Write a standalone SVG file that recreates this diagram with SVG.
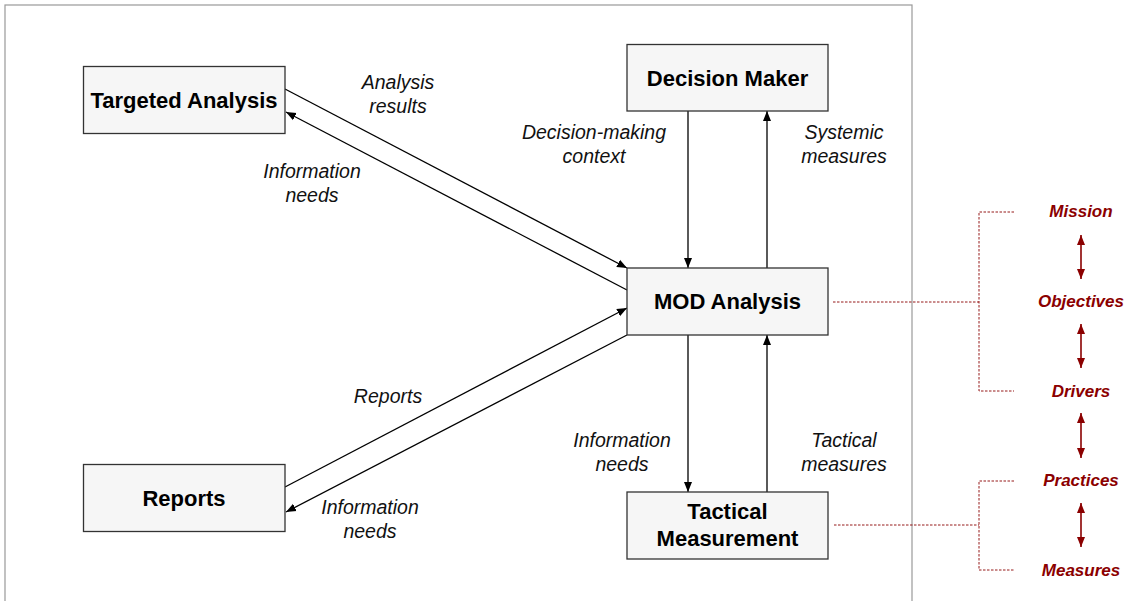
<svg xmlns="http://www.w3.org/2000/svg" width="1128" height="601" viewBox="0 0 1128 601">
<defs>
<style>
.box{fill:#f6f6f6;stroke:#333;stroke-width:1.3}
.nt{font-family:"Liberation Sans",Arial,sans-serif;font-weight:bold;font-size:22px;fill:#000;text-anchor:middle}
.lb{font-family:"Liberation Sans",Arial,sans-serif;font-style:italic;font-size:19.5px;fill:#111;text-anchor:middle}
.rt{font-family:"Liberation Sans",Arial,sans-serif;font-style:italic;font-weight:bold;font-size:17px;fill:#8b0000;text-anchor:middle}
.ln{stroke:#000;stroke-width:1.3;fill:none}
.dl{stroke:#8b0000;stroke-width:0.9;fill:none;stroke-dasharray:2.5 1.5}
.ra{stroke:#8b0000;stroke-width:1.6;fill:none}
</style>
<marker id="ah" viewBox="0 0 10 10" refX="10" refY="5" markerWidth="10" markerHeight="10" markerUnits="userSpaceOnUse" orient="auto">
<path d="M0,1 L10,5 L0,9 z" fill="#000"/>
</marker>
<marker id="rh" viewBox="0 0 10 10" refX="10" refY="5" markerWidth="10" markerHeight="10" markerUnits="userSpaceOnUse" orient="auto-start-reverse">
<path d="M0,1 L10,5 L0,9 z" fill="#8b0000"/>
</marker>
</defs>
<rect x="0" y="0" width="1128" height="601" fill="#fff"/>
<rect x="5" y="5" width="907" height="620" fill="none" stroke="#999" stroke-width="1.2"/>

<g id="connectors">
<line class="ln" x1="285" y1="89" x2="627" y2="268" marker-end="url(#ah)"/>
<line class="ln" x1="627" y1="290" x2="286" y2="112" marker-end="url(#ah)"/>
<line class="ln" x1="285" y1="487" x2="627" y2="308" marker-end="url(#ah)"/>
<line class="ln" x1="627" y1="335" x2="286" y2="512" marker-end="url(#ah)"/>
<line class="ln" x1="688" y1="111" x2="688" y2="268" marker-end="url(#ah)"/>
<line class="ln" x1="767" y1="268" x2="767" y2="111" marker-end="url(#ah)"/>
<line class="ln" x1="688" y1="335" x2="688" y2="492" marker-end="url(#ah)"/>
<line class="ln" x1="767" y1="492" x2="767" y2="335" marker-end="url(#ah)"/>
<text class="lb"><tspan x="398" y="89">Analysis</tspan><tspan x="398" y="113">results</tspan></text>
<text class="lb"><tspan x="312" y="178">Information</tspan><tspan x="312" y="202">needs</tspan></text>
<text class="lb" x="388" y="403">Reports</text>
<text class="lb"><tspan x="370" y="514">Information</tspan><tspan x="370" y="538">needs</tspan></text>
<text class="lb"><tspan x="594" y="139">Decision-making</tspan><tspan x="594" y="163">context</tspan></text>
<text class="lb"><tspan x="844" y="139">Systemic</tspan><tspan x="844" y="163">measures</tspan></text>
<text class="lb"><tspan x="622" y="447">Information</tspan><tspan x="622" y="471">needs</tspan></text>
<text class="lb"><tspan x="844" y="447">Tactical</tspan><tspan x="844" y="471">measures</tspan></text>
<path class="dl" d="M833,302 H979 M1014,212 H979 V391 H1014"/>
<path class="dl" d="M834,525 H979 M1014,481 H979 V570 H1014"/>
<line class="ra" x1="1081" y1="235" x2="1081" y2="279" marker-start="url(#rh)" marker-end="url(#rh)"/>
<line class="ra" x1="1081" y1="324" x2="1081" y2="368" marker-start="url(#rh)" marker-end="url(#rh)"/>
<line class="ra" x1="1081" y1="413" x2="1081" y2="458" marker-start="url(#rh)" marker-end="url(#rh)"/>
<line class="ra" x1="1081" y1="503" x2="1081" y2="547" marker-start="url(#rh)" marker-end="url(#rh)"/>
</g>

<g id="targeted-analysis"><rect class="box" x="83.5" y="66.5" width="201.5" height="67"/><text class="nt" x="184" y="107.5">Targeted Analysis</text></g>
<g id="reports"><rect class="box" x="83.5" y="464.5" width="201.5" height="67"/><text class="nt" x="184" y="505.5">Reports</text></g>
<g id="decision-maker"><rect class="box" x="627" y="44.5" width="201" height="66.5"/><text class="nt" x="727.5" y="85.5">Decision Maker</text></g>
<g id="mod-analysis"><rect class="box" x="627" y="268" width="201" height="67"/><text class="nt" x="727.5" y="309">MOD Analysis</text></g>
<g id="tactical-measurement"><rect class="box" x="627" y="492" width="201" height="67"/><text class="nt"><tspan x="727.5" y="519">Tactical</tspan><tspan x="727.5" y="546">Measurement</tspan></text></g>

<g id="mission"><text class="rt" x="1081" y="217">Mission</text></g>
<g id="objectives"><text class="rt" x="1081" y="307">Objectives</text></g>
<g id="drivers"><text class="rt" x="1081" y="397">Drivers</text></g>
<g id="practices"><text class="rt" x="1081" y="486">Practices</text></g>
<g id="measures"><text class="rt" x="1081" y="576">Measures</text></g>
</svg>
